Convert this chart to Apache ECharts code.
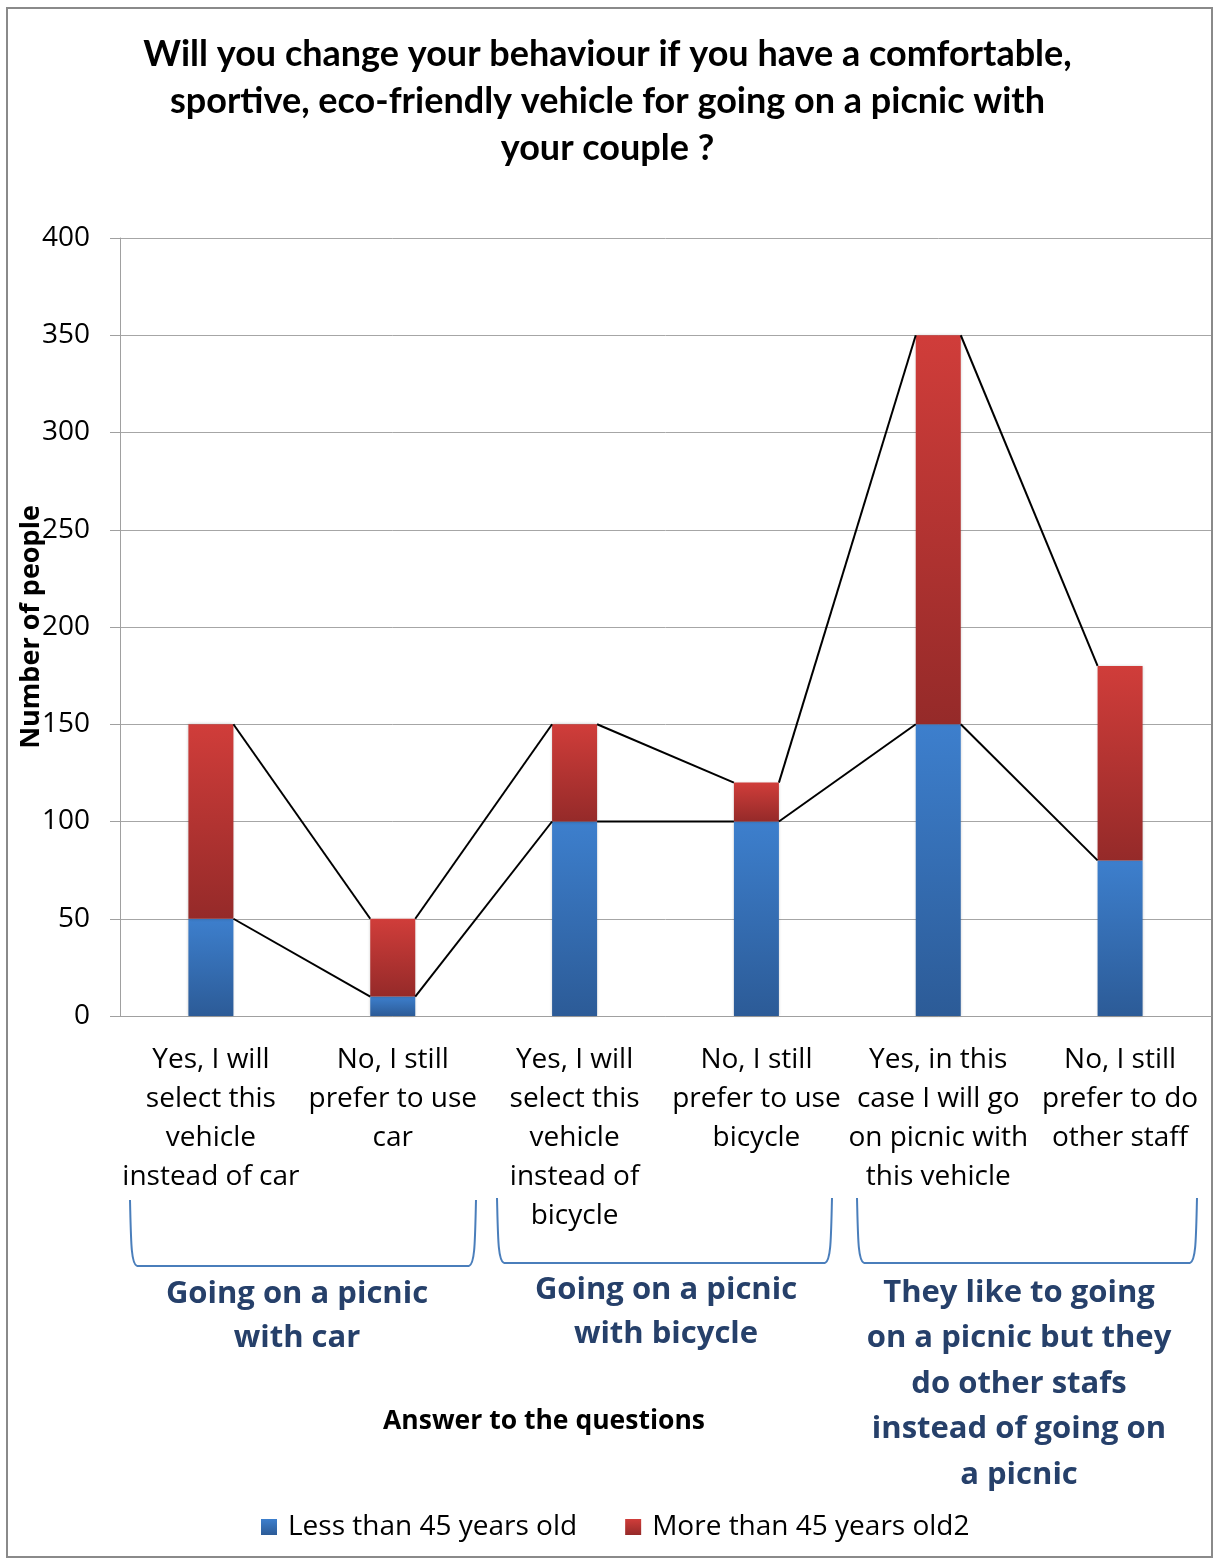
<!DOCTYPE html>
<html>
<head>
<meta charset="utf-8">
<script src="https://cdn.jsdelivr.net/npm/echarts@6/dist/echarts.min.js"></script>
<style>
  html, body { margin: 0; padding: 0; background: #fff; }
  #chart { width: 1215px; height: 1559px; }
</style>
</head>
<body>
<div id="chart"></div>
<script>
const categories = [
  'Yes, I will\nselect this\nvehicle\ninstead of car',
  'No, I still\nprefer to use\ncar',
  'Yes, I will\nselect this\nvehicle\ninstead of\nbicycle',
  'No, I still\nprefer to use\nbicycle',
  'Yes, in this\ncase I will go\non picnic with\nthis vehicle',
  'No, I still\nprefer to do\nother staff'
]
const under45 = [50, 10, 100, 100, 150, 80]
const over45 = [100, 40, 50, 20, 200, 100]
const seriesNames = ['Less than 45 years old', 'More than 45 years old2']
const groupLabels = ['Going on a picnic\nwith car', 'Going on a picnic\nwith bicycle', 'They like to going\non a picnic but they\ndo other stafs\ninstead of going on\na picnic']

const BAR_W = 45
const FONT = '"Open Sans", sans-serif'

// running tops of each stack level, used for the series lines
const lowTop = under45.slice()
const highTop = under45.map((v, i) => v + over45[i])

function seriesLineData (tops) {
  let out = []
  for (let i = 0; i < tops.length - 1; i++) {
    out.push([i, tops[i], tops[i + 1]])
  }
  return out
}

function renderSeriesLine (params, api) {
  let i = api.value(0)
  let p1 = api.coord([i, api.value(1)])
  let p2 = api.coord([i + 1, api.value(2)])
  return {
    type: 'line',
    shape: { x1: p1[0] + BAR_W / 2, y1: p1[1], x2: p2[0] - BAR_W / 2, y2: p2[1] },
    style: { stroke: '#000', lineWidth: 2 },
    silent: true
  }
}

function grad (top, bottom) {
  return {
    type: 'linear', x: 0, y: 0, x2: 0, y2: 1,
    colorStops: [{ offset: 0, color: top }, { offset: 1, color: bottom }]
  }
}

function bracket (x1, x2, yTop, yBot) {
  let st = { stroke: '#4a7ebb', lineWidth: 2, fill: null }
  return {
    type: 'group',
    children: [
      { type: 'bezierCurve', shape: { x1: x1, y1: yTop, cpx1: x1 + 1, cpy1: yBot - 25, cpx2: x1 + 1, cpy2: yBot - 2, x2: x1 + 7, y2: yBot }, style: st },
      { type: 'line', shape: { x1: x1 + 7, y1: yBot, x2: x2 - 7, y2: yBot }, style: st },
      { type: 'bezierCurve', shape: { x1: x2 - 7, y1: yBot, cpx1: x2 - 1, cpy1: yBot - 2, cpx2: x2 - 1, cpy2: yBot - 25, x2: x2, y2: yTop }, style: st }
    ]
  }
}

function groupText (text, x, firstY, lh) {
  return {
    type: 'text',
    style: {
      text: text, x: x, y: firstY - lh / 2,
      align: 'center', verticalAlign: 'top',
      font: 'bold 31px ' + FONT, lineHeight: lh, fill: '#26406a'
    }
  }
}

let option = {
  animation: false,
  backgroundColor: '#fff',
  title: {
    text: 'Will you change your behaviour if you have a comfortable,\nsportive, eco-friendly vehicle for going on a picnic with\nyour couple ?',
    left: 'center',
    top: 26,
    textStyle: { fontFamily: 'Lato, sans-serif', fontWeight: 'bold', fontSize: 36, lineHeight: 47, color: '#000' }
  },
  grid: { left: 120, right: 4, top: 238, bottom: 543, containLabel: false, outerBoundsMode: 'none' },
  legend: {
    data: seriesNames,
    left: 256,
    top: 1508,
    icon: 'rect',
    itemWidth: 16,
    itemHeight: 16,
    itemGap: 48,
    textStyle: { fontFamily: FONT, fontSize: 28, color: '#000', padding: [0, 0, 0, 6] }
  },
  xAxis: {
    type: 'category',
    data: categories,
    axisLine: { lineStyle: { color: '#a0a0a0', width: 1 } },
    axisTick: { show: false },
    axisLabel: { interval: 0, fontFamily: FONT, fontSize: 28, lineHeight: 39, color: '#000', margin: 25, align: 'center' }
  },
  yAxis: {
    type: 'value',
    min: 0,
    max: 400,
    interval: 50,
    name: 'Number of people',
    nameLocation: 'middle',
    nameRotate: 90,
    nameGap: 75,
    nameMoveOverlap: false,
    nameTextStyle: { fontFamily: FONT, fontWeight: 'bold', fontSize: 27, color: '#000' },
    axisLine: { show: true, lineStyle: { color: '#a0a0a0', width: 1 } },
    axisTick: { show: true, length: 10, lineStyle: { color: '#a0a0a0' } },
    splitLine: { lineStyle: { color: '#a6a6a6', width: 1 } },
    axisLabel: { fontFamily: FONT, fontSize: 28, color: '#000', margin: 30 }
  },
  series: [
    {
      name: seriesNames[0],
      type: 'bar',
      stack: 'age',
      barWidth: BAR_W,
      data: under45,
      itemStyle: { color: grad('#3d7fcd', '#2c5b97'), shadowBlur: 3, shadowColor: 'rgba(0,0,0,0.25)' }
    },
    {
      name: seriesNames[1],
      type: 'bar',
      stack: 'age',
      barWidth: BAR_W,
      data: over45,
      itemStyle: { color: grad('#d03d3a', '#952a29'), shadowBlur: 3, shadowColor: 'rgba(0,0,0,0.25)' }
    },
    {
      type: 'custom',
      renderItem: renderSeriesLine,
      data: seriesLineData(lowTop),
      encode: { x: 0, y: [1, 2] },
      z: 5
    },
    {
      type: 'custom',
      renderItem: renderSeriesLine,
      data: seriesLineData(highTop),
      encode: { x: 0, y: [1, 2] },
      z: 5
    }
  ],
  graphic: [
    { type: 'rect', shape: { x: 7, y: 8, width: 1205, height: 1549 }, style: { fill: null, stroke: '#8a8a8a', lineWidth: 2 }, z: -1 },
    bracket(130, 476, 1200, 1266),
    bracket(497, 832, 1198, 1263),
    bracket(857, 1197, 1198, 1263),
    groupText(groupLabels[0], 297, 1294, 44),
    groupText(groupLabels[1], 666, 1290, 44),
    groupText(groupLabels[2], 1019, 1293, 45.5),
    {
      type: 'text',
      style: { text: 'Answer to the questions', x: 544, y: 1421, align: 'center', verticalAlign: 'middle', font: 'bold 26.5px ' + FONT, fill: '#000' }
    }
  ]
}

let myChart = echarts.init(document.getElementById('chart'))
myChart.setOption(option)
</script>
</body>
</html>
